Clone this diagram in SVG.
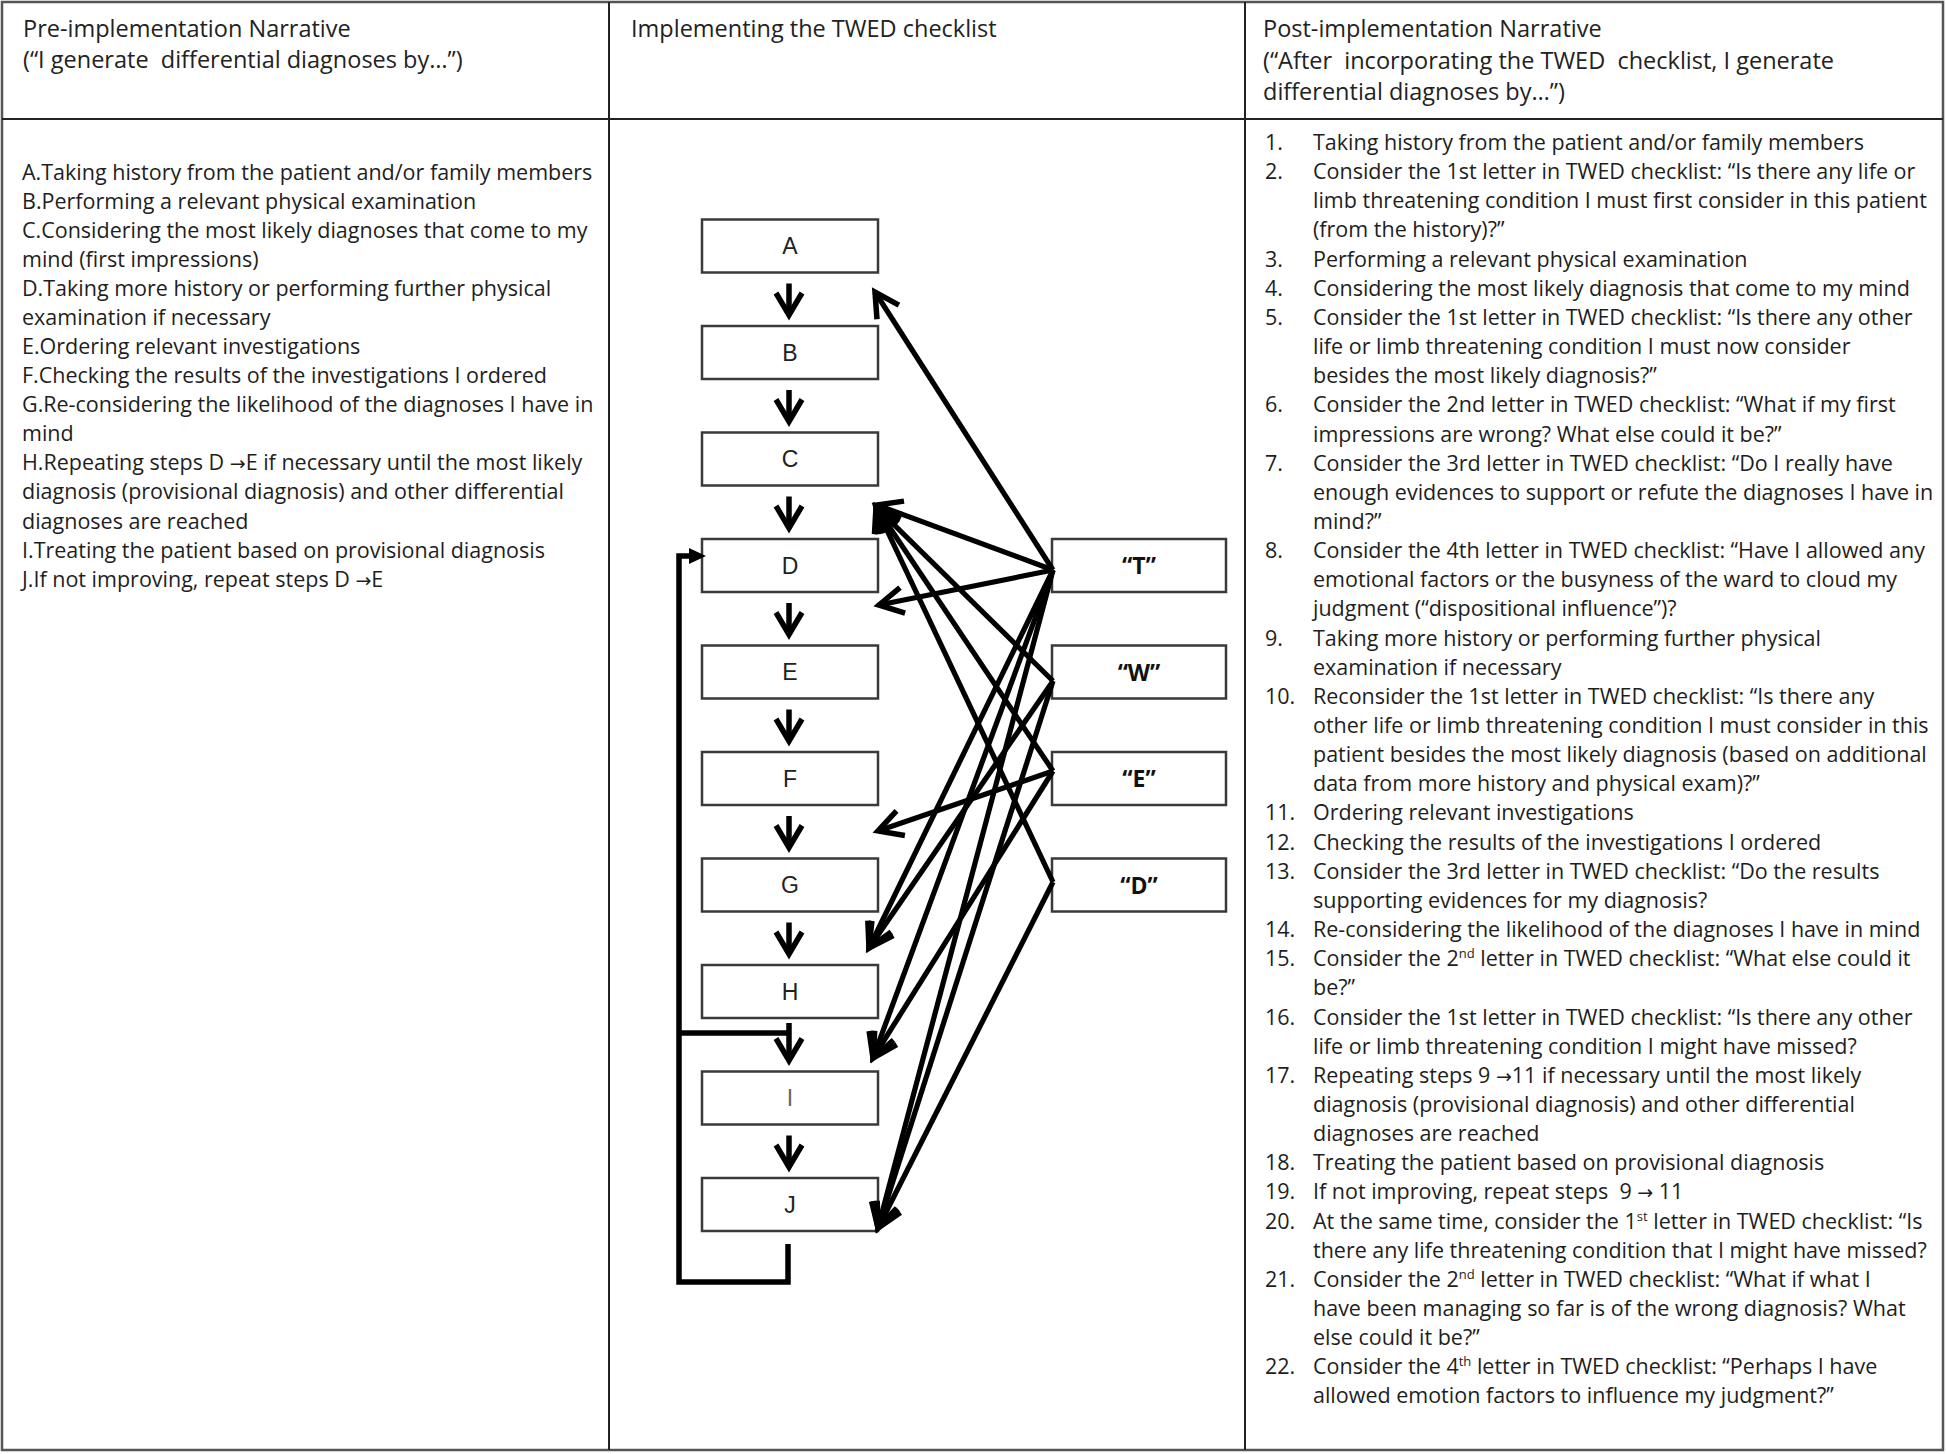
<svg xmlns="http://www.w3.org/2000/svg" width="1946" height="1454" viewBox="0 0 1946 1454">
<defs>
<style>
.txt{font-family:"Open Sans","Liberation Sans",sans-serif;font-size:21.5px;fill:#1e1e1e}
.hdr{font-family:"Open Sans","Liberation Sans",sans-serif;font-size:23.5px;fill:#222}
.ar{font-family:"DejaVu Sans","Liberation Sans",sans-serif;font-size:19px}
.box{fill:#fff;stroke:#3a3a3a;stroke-width:2.5}
.lbl{font-family:"Liberation Sans",Arial,sans-serif;font-size:23px;fill:#222;text-anchor:middle}
.tw{font-family:"Open Sans","Liberation Sans",sans-serif;font-size:23px;font-weight:bold;fill:#111;text-anchor:middle}
.down{stroke:#000;stroke-width:5.5;fill:none;marker-end:url(#chevD)}
.arr{stroke:#000;stroke-width:5.2;fill:none;marker-end:url(#chev)}
.loop{stroke:#000;stroke-width:5.5;fill:none}
.grid{stroke:#222;stroke-width:2;fill:none}
</style>
<marker id="chev" markerUnits="userSpaceOnUse" markerWidth="60" markerHeight="60" viewBox="-30 -30 60 60" refX="0" refY="0" orient="auto" overflow="visible">
<path d="M-24,-13 L0,0 L-24,13" fill="none" stroke="#000" stroke-width="5.5"/>
</marker>
<marker id="chevD" markerUnits="userSpaceOnUse" markerWidth="60" markerHeight="60" viewBox="-30 -30 60 60" refX="0" refY="0" orient="auto" overflow="visible">
<path d="M-22,-13 L0,0 L-22,13" fill="none" stroke="#000" stroke-width="5.5"/>
</marker>
</defs>
<rect width="1946" height="1454" fill="#fff"/>

<g id="table">
<rect x="2" y="2" width="1941" height="1448" fill="none" stroke="#555" stroke-width="2.5"/>
<line class="grid" x1="2" y1="119" x2="1943" y2="119"/>
<line class="grid" x1="609" y1="2" x2="609" y2="1450"/>
<line class="grid" x1="1245" y1="2" x2="1245" y2="1450"/>
</g>

<g id="headers" class="hdr">
<text x="23" y="37">Pre-implementation Narrative</text>
<text x="23" y="68" xml:space="preserve">(“I generate  differential diagnoses by…”)</text>
<text x="631" y="37">Implementing the TWED checklist</text>
<text x="1263" y="37">Post-implementation Narrative</text>
<text x="1263" y="69" xml:space="preserve">(“After  incorporating the TWED  checklist, I generate</text>
<text x="1263" y="100">differential diagnoses by…”)</text>
</g>

<g id="pre-narrative" class="txt">
<text x="22" y="179.5">A.Taking history from the patient and/or family members</text>
<text x="22" y="208.6">B.Performing a relevant physical examination</text>
<text x="22" y="237.7">C.Considering the most likely diagnoses that come to my</text>
<text x="22" y="266.7">mind (first impressions)</text>
<text x="22" y="295.8">D.Taking more history or performing further physical</text>
<text x="22" y="324.9">examination if necessary</text>
<text x="22" y="354">E.Ordering relevant investigations</text>
<text x="22" y="383.1">F.Checking the results of the investigations I ordered</text>
<text x="22" y="412.1">G.Re-considering the likelihood of the diagnoses I have in</text>
<text x="22" y="441.2">mind</text>
<text x="22" y="470.3">H.Repeating steps D <tspan class="ar">→</tspan>E if necessary until the most likely</text>
<text x="22" y="499.4">diagnosis (provisional diagnosis) and other differential</text>
<text x="22" y="528.5">diagnoses are reached</text>
<text x="22" y="557.5">I.Treating the patient based on provisional diagnosis</text>
<text x="22" y="586.6">J.If not improving, repeat steps D <tspan class="ar">→</tspan>E</text>
</g>

<g id="post-narrative" class="txt">
<text x="1265" y="150">1.</text>
<text x="1313" y="150">Taking history from the patient and/or family members</text>
<text x="1265" y="179.15">2.</text>
<text x="1313" y="179.15">Consider the 1st letter in TWED checklist: “Is there any life or</text>
<text x="1313" y="208.3">limb threatening condition I must first consider in this patient</text>
<text x="1313" y="237.45">(from the history)?”</text>
<text x="1265" y="266.6">3.</text>
<text x="1313" y="266.6">Performing a relevant physical examination</text>
<text x="1265" y="295.75">4.</text>
<text x="1313" y="295.75">Considering the most likely diagnosis that come to my mind</text>
<text x="1265" y="324.9">5.</text>
<text x="1313" y="324.9">Consider the 1st letter in TWED checklist: “Is there any other</text>
<text x="1313" y="354.05">life or limb threatening condition I must now consider</text>
<text x="1313" y="383.2">besides the most likely diagnosis?”</text>
<text x="1265" y="412.35">6.</text>
<text x="1313" y="412.35">Consider the 2nd letter in TWED checklist: “What if my first</text>
<text x="1313" y="441.5">impressions are wrong? What else could it be?”</text>
<text x="1265" y="470.65">7.</text>
<text x="1313" y="470.65">Consider the 3rd letter in TWED checklist: “Do I really have</text>
<text x="1313" y="499.8">enough evidences to support or refute the diagnoses I have in</text>
<text x="1313" y="528.95">mind?”</text>
<text x="1265" y="558.1">8.</text>
<text x="1313" y="558.1">Consider the 4th letter in TWED checklist: “Have I allowed any</text>
<text x="1313" y="587.25">emotional factors or the busyness of the ward to cloud my</text>
<text x="1313" y="616.4">judgment (“dispositional influence”)?</text>
<text x="1265" y="645.55">9.</text>
<text x="1313" y="645.55">Taking more history or performing further physical</text>
<text x="1313" y="674.7">examination if necessary</text>
<text x="1265" y="703.85">10.</text>
<text x="1313" y="703.85">Reconsider the 1st letter in TWED checklist: “Is there any</text>
<text x="1313" y="733">other life or limb threatening condition I must consider in this</text>
<text x="1313" y="762.15">patient besides the most likely diagnosis (based on additional</text>
<text x="1313" y="791.3">data from more history and physical exam)?”</text>
<text x="1265" y="820.45">11.</text>
<text x="1313" y="820.45">Ordering relevant investigations</text>
<text x="1265" y="849.6">12.</text>
<text x="1313" y="849.6">Checking the results of the investigations I ordered</text>
<text x="1265" y="878.75">13.</text>
<text x="1313" y="878.75">Consider the 3rd letter in TWED checklist: “Do the results</text>
<text x="1313" y="907.9">supporting evidences for my diagnosis?</text>
<text x="1265" y="937.05">14.</text>
<text x="1313" y="937.05">Re-considering the likelihood of the diagnoses I have in mind</text>
<text x="1265" y="966.2">15.</text>
<text x="1313" y="966.2">Consider the 2<tspan font-size="13" dy="-8">nd</tspan><tspan dy="8"> letter in TWED checklist: “What else could it</tspan></text>
<text x="1313" y="995.35">be?”</text>
<text x="1265" y="1024.5">16.</text>
<text x="1313" y="1024.5">Consider the 1st letter in TWED checklist: “Is there any other</text>
<text x="1313" y="1053.65">life or limb threatening condition I might have missed?</text>
<text x="1265" y="1082.8">17.</text>
<text x="1313" y="1082.8">Repeating steps 9 <tspan class="ar">→</tspan>11 if necessary until the most likely</text>
<text x="1313" y="1111.95">diagnosis (provisional diagnosis) and other differential</text>
<text x="1313" y="1141.1">diagnoses are reached</text>
<text x="1265" y="1170.25">18.</text>
<text x="1313" y="1170.25">Treating the patient based on provisional diagnosis</text>
<text x="1265" y="1199.4">19.</text>
<text x="1313" y="1199.4" xml:space="preserve">If not improving, repeat steps  9 <tspan class="ar">→</tspan> 11</text>
<text x="1265" y="1228.55">20.</text>
<text x="1313" y="1228.55">At the same time, consider the 1<tspan font-size="13" dy="-8">st</tspan><tspan dy="8"> letter in TWED checklist: “Is</tspan></text>
<text x="1313" y="1257.7">there any life threatening condition that I might have missed?</text>
<text x="1265" y="1286.85">21.</text>
<text x="1313" y="1286.85">Consider the 2<tspan font-size="13" dy="-8">nd</tspan><tspan dy="8"> letter in TWED checklist: “What if what I</tspan></text>
<text x="1313" y="1316">have been managing so far is of the wrong diagnosis? What</text>
<text x="1313" y="1345.15">else could it be?”</text>
<text x="1265" y="1374.3">22.</text>
<text x="1313" y="1374.3">Consider the 4<tspan font-size="13" dy="-8">th</tspan><tspan dy="8"> letter in TWED checklist: “Perhaps I have</tspan></text>
<text x="1313" y="1403.45">allowed emotion factors to influence my judgment?”</text>
</g>

<g id="node-A"><rect class="box" x="702" y="219.5" width="176" height="53"/><text class="lbl" x="790" y="254">A</text></g>
<g id="node-B"><rect class="box" x="702" y="326" width="176" height="53"/><text class="lbl" x="790" y="360.5">B</text></g>
<g id="node-C"><rect class="box" x="702" y="432.5" width="176" height="53"/><text class="lbl" x="790" y="467">C</text></g>
<g id="node-D"><rect class="box" x="702" y="539" width="176" height="53"/><text class="lbl" x="790" y="573.5">D</text></g>
<g id="node-E"><rect class="box" x="702" y="645.5" width="176" height="53"/><text class="lbl" x="790" y="680">E</text></g>
<g id="node-F"><rect class="box" x="702" y="752" width="176" height="53"/><text class="lbl" x="790" y="786.5">F</text></g>
<g id="node-G"><rect class="box" x="702" y="858.5" width="176" height="53"/><text class="lbl" x="790" y="893">G</text></g>
<g id="node-H"><rect class="box" x="702" y="965" width="176" height="53"/><text class="lbl" x="790" y="999.5">H</text></g>
<g id="node-I"><rect class="box" x="702" y="1071.5" width="176" height="53"/><text class="lbl" x="790" y="1106" style="fill:#666">I</text></g>
<g id="node-J"><rect class="box" x="702" y="1178" width="176" height="53"/><text class="lbl" x="790" y="1212.5">J</text></g>

<g id="node-T"><rect class="box" x="1052" y="539" width="174" height="53"/><text class="tw" x="1139" y="574">“T”</text></g>
<g id="node-W"><rect class="box" x="1052" y="645.5" width="174" height="53"/><text class="tw" x="1139" y="680.5">“W”</text></g>
<g id="node-E2"><rect class="box" x="1052" y="752" width="174" height="53"/><text class="tw" x="1139" y="787">“E”</text></g>
<g id="node-D2"><rect class="box" x="1052" y="858.5" width="174" height="53"/><text class="tw" x="1139" y="893.5">“D”</text></g>

<g id="connectors">
<line class="down" x1="789" y1="283.5" x2="789" y2="315"/>
<line class="down" x1="789" y1="390" x2="789" y2="421.5"/>
<line class="down" x1="789" y1="496.5" x2="789" y2="528"/>
<line class="down" x1="789" y1="603" x2="789" y2="634.5"/>
<line class="down" x1="789" y1="709.5" x2="789" y2="741"/>
<line class="down" x1="789" y1="816" x2="789" y2="847.5"/>
<line class="down" x1="789" y1="922.5" x2="789" y2="954"/>
<line class="down" x1="789" y1="1023" x2="789" y2="1060.5"/>
<line class="down" x1="789" y1="1135.5" x2="789" y2="1167"/>

<path class="loop" d="M788,1244 V1282 H679 V556 H692"/>
<polygon points="689,548 706,556 689,564" fill="#000"/>
<line class="loop" x1="679" y1="1033" x2="791" y2="1033"/>

<line class="arr" x1="1053" y1="570" x2="875" y2="292"/>
<line class="arr" x1="1053" y1="570" x2="877" y2="505"/>
<line class="arr" x1="1053" y1="570" x2="879" y2="605"/>
<line class="arr" x1="1053" y1="570" x2="869" y2="948"/>
<line class="arr" x1="1053" y1="570" x2="873" y2="1058"/>
<line class="arr" x1="1053" y1="570" x2="878" y2="1228"/>
<line class="arr" x1="1053" y1="681" x2="876" y2="507"/>
<line class="arr" x1="1053" y1="681" x2="869" y2="948"/>
<line class="arr" x1="1053" y1="681" x2="878" y2="1228"/>
<line class="arr" x1="1053" y1="771" x2="876" y2="507"/>
<line class="arr" x1="1053" y1="771" x2="878" y2="831"/>
<line class="arr" x1="1053" y1="771" x2="873" y2="1058"/>
<line class="arr" x1="1053" y1="882" x2="876" y2="507"/>
<line class="arr" x1="1053" y1="882" x2="878" y2="1228"/>
</g>
</svg>
